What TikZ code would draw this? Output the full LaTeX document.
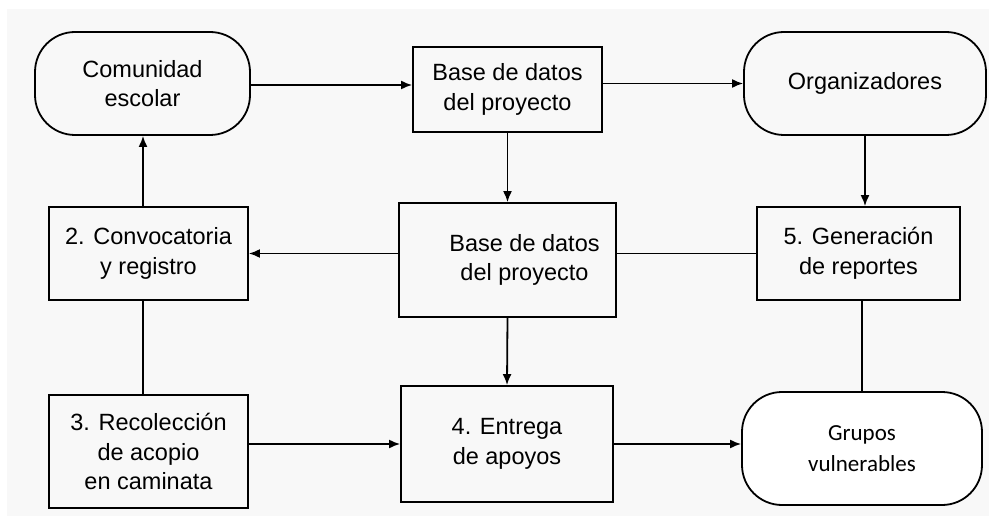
\documentclass[tikz,border=0pt]{standalone}
\usepackage{fontspec}
\setmainfont{Liberation Sans}
\newfontfamily\grupofont{Carlito}
\usetikzlibrary{positioning, calc, arrows.meta}

\definecolor{paper}{HTML}{F8F8F8}

\tikzset{
    box/.style={draw, line width=1.8pt, fill=paper, align=center, inner sep=0pt, font=\fontsize{23.5}{29.5}\selectfont},
    round box/.style={box, rounded corners=40pt},
    flow/.style={-{Latex[length=11pt,width=9pt]}, line width=1.8pt},
    link/.style={line width=1.8pt}
}

\begin{document}
\begin{tikzpicture}[x=1pt, y=-1pt]
    \useasboundingbox (0,0) rectangle (989,516);
    \fill[paper] (7,9) rectangle (989,516);

    \node (comunidad box) at (142.5,83.5) [round box,minimum width=215pt,minimum height=103pt] {Comunidad\\escolar};
    \node (base top) at (507.5,89.5) [box,minimum width=189pt,minimum height=85pt] {Base de datos\\del proyecto};
    \node (organizadores box) at (865,83.5) [round box,minimum width=242pt,minimum height=103pt] {Organizadores};

    \node (convocatoria box) at (148.5,253.5) [box,minimum width=199pt,minimum height=93pt] {2. Convocatoria\\y registro};
    \node (base mid) at (507.5,260) [box,minimum width=217pt,minimum height=114pt] {};
    \node[xshift=17pt] at (base mid.center) [align=center,font=\fontsize{23.5}{29.5}\selectfont] {Base de datos\\del proyecto};
    \node (generacion box) at (858.5,253.5) [box,minimum width=203pt,minimum height=93pt] {5. Generación\\de reportes};

    \node (recoleccion box) at (148.5,451.5) [box,minimum width=199pt,minimum height=113pt] {3. Recolección\\de acopio\\en caminata};
    \node (entrega box) at (507,444) [box,minimum width=212pt,minimum height=116pt] {4. Entrega\\de apoyos};
    \node (grupos box) at (862,448.5) [round box,fill=white,minimum width=240pt,minimum height=113pt,font=\grupofont\fontsize{23}{31}\selectfont] {Grupos\\vulnerables};

    % top row
    \draw[flow] (comunidad box.east |- 0,85) -- (base top.west |- 0,85);
    \draw[flow] (base top.east |- organizadores box.west) -- (organizadores box.west);
    \draw[flow] (base top.south) -- (base mid.north);
    \draw[flow] (organizadores box.south) -- (organizadores box.south |- generacion box.north);

    % middle row
    \draw[flow] (convocatoria box.east -| base mid.west) -- (convocatoria box.east);
    \draw[link] (generacion box.west) -- (generacion box.west -| base mid.east);
    \draw[flow] (convocatoria box.north -| 143,0) -- (comunidad box.south -| 143,0);
    \draw[link] (recoleccion box.north -| 143,0) -- (convocatoria box.south -| 143,0);

    % bottom row
    \draw[flow] (recoleccion box.east |- entrega box.west) -- (entrega box.west);
    \draw[flow] (base mid.south) -- (entrega box.north);
    \draw[flow] (entrega box.east) -- (entrega box.east -| grupos box.west);
    \draw[link] (generacion box.south -| grupos box.north) -- (grupos box.north);
\end{tikzpicture}
\end{document}
